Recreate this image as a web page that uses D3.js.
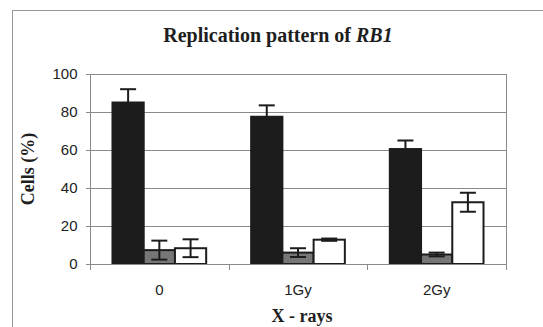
<!DOCTYPE html>
<html>
<head>
<meta charset="utf-8">
<style>
  body { margin: 0; background: #fff; }
  svg { display: block; }
  .grid line { stroke: #8a8a8a; stroke-width: 1; shape-rendering: crispEdges; }
  .axis text { font-family: Arial, "Liberation Sans", sans-serif; font-size: 15px; fill: #222; }
  .axis path, .axis line { stroke: #8a8a8a; shape-rendering: crispEdges; }
  .title { font-family: "Times New Roman", "Liberation Serif", serif; font-weight: bold; fill: #1e1e1e; }
</style>
</head>
<body>
<svg width="543" height="327"></svg>
<script src="https://cdn.jsdelivr.net/npm/d3@7/dist/d3.min.js"></script>
<script>
// data
var categories = ["0", "1Gy", "2Gy"];
var seriesKeys = ["a", "b", "c"];
var blackValues = [85, 77.5, 60.5];
var blackErrors = [7, 6, 4.5];
var grayValues = [7.3, 6, 5];
var grayErrors = [5, 2.3, 1];
var whiteValues = [8.3, 12.8, 32.5];
var whiteErrors = [4.7, 0.6, 5];
var yTicks = [0, 20, 40, 60, 80, 100];

var ink = "#1c1c1c";
var fills = {a: ink, b: "#777777", c: "#ffffff"};

var svg = d3.select("svg");
var plot = {left: 90, right: 506, top: 74, bottom: 264};

// outer chart frame
svg.append("rect")
  .attr("x", 12.5).attr("y", 10.5)
  .attr("width", 560).attr("height", 340)
  .attr("fill", "#fff")
  .attr("stroke", "#999");

var x0 = d3.scaleBand().domain(categories).range([plot.left, plot.right]);
var x1 = d3.scaleBand().domain(seriesKeys).range([0, x0.bandwidth()]).paddingOuter(0.72);
var y = d3.scaleLinear().domain([0, 100]).range([plot.bottom, plot.top]);

// gridlines
svg.append("g").attr("class", "grid")
  .selectAll("line").data(yTicks.slice(1)).enter().append("line")
  .attr("x1", plot.left).attr("x2", plot.right)
  .attr("y1", function(d) { return Math.round(y(d)) + 0.5; })
  .attr("y2", function(d) { return Math.round(y(d)) + 0.5; });

// right border
svg.append("line")
  .attr("x1", plot.right + 0.5).attr("x2", plot.right + 0.5)
  .attr("y1", plot.top).attr("y2", plot.bottom)
  .attr("stroke", "#8a8a8a");

var rows = categories.map(function(c, i) {
  return {cat: c, vals: [
    {key: "a", v: blackValues[i], e: blackErrors[i]},
    {key: "b", v: grayValues[i], e: grayErrors[i]},
    {key: "c", v: whiteValues[i], e: whiteErrors[i]}
  ]};
});

var groups = svg.append("g").selectAll("g").data(rows).enter().append("g")
  .attr("transform", function(d) { return "translate(" + x0(d.cat) + ",0)"; });

groups.selectAll("rect").data(function(d) { return d.vals; }).enter().append("rect")
  .attr("x", function(d) { return x1(d.key); })
  .attr("y", function(d) { return y(d.v); })
  .attr("width", x1.bandwidth())
  .attr("height", function(d) { return y(0) - y(d.v); })
  .attr("fill", function(d) { return fills[d.key]; })
  .attr("stroke", ink)
  .attr("stroke-width", 2);

// error bars
var err = groups.selectAll("g.err").data(function(d) { return d.vals; }).enter().append("g")
  .attr("class", "err")
  .attr("stroke", ink)
  .attr("stroke-width", 2);

var cx = function(d) { return x1(d.key) + x1.bandwidth() / 2; };
err.append("line")
  .attr("x1", cx).attr("x2", cx)
  .attr("y1", function(d) { return y(d.v + d.e); })
  .attr("y2", function(d) { return y(d.v - d.e); });
[1, -1].forEach(function(s) {
  err.append("line")
    .attr("x1", function(d) { return cx(d) - 8; })
    .attr("x2", function(d) { return cx(d) + 8; })
    .attr("y1", function(d) { return y(d.v + s * d.e); })
    .attr("y2", function(d) { return y(d.v + s * d.e); });
});

// axes
svg.append("g").attr("class", "axis")
  .attr("transform", "translate(" + (plot.left + 0.5) + ",0)")
  .call(d3.axisLeft(y).tickValues(yTicks).tickSize(5).tickSizeOuter(0).tickPadding(8))
  .call(function(g) { g.select(".domain").attr("d", "M0," + plot.top + "V" + plot.bottom); });

var xAxis = svg.append("g").attr("class", "axis")
  .attr("transform", "translate(0," + (plot.bottom + 0.5) + ")");
xAxis.append("line").attr("x1", plot.left).attr("x2", plot.right + 1);
xAxis.selectAll(".tk").data(categories.concat(["end"])).enter().append("line")
  .attr("x1", function(d, i) { return Math.round(plot.left + i * x0.bandwidth()) + 0.5; })
  .attr("x2", function(d, i) { return Math.round(plot.left + i * x0.bandwidth()) + 0.5; })
  .attr("y1", 0).attr("y2", 5);
xAxis.selectAll("text").data(categories).enter().append("text")
  .attr("x", function(d) { return x0(d) + x0.bandwidth() / 2; })
  .attr("y", 30)
  .attr("text-anchor", "middle")
  .text(function(d) { return d; });

// titles
var t = svg.append("text").attr("class", "title")
  .attr("x", 278).attr("y", 42).attr("text-anchor", "middle")
  .style("font-size", "20px");
t.append("tspan").text("Replication pattern of ");
t.append("tspan").style("font-style", "italic").text("RB1");

svg.append("text").attr("class", "title")
  .attr("x", 302).attr("y", 322).attr("text-anchor", "middle")
  .style("font-size", "18px")
  .text("X - rays");

svg.append("text").attr("class", "title")
  .attr("transform", "translate(34,169) rotate(-90)")
  .attr("text-anchor", "middle")
  .style("font-size", "18px")
  .text("Cells (%)");
</script>
</body>
</html>
